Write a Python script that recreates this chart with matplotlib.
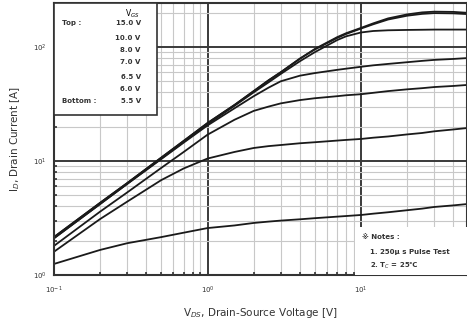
import numpy as np
import matplotlib
matplotlib.use('Agg')
import matplotlib.pyplot as plt
from matplotlib.ticker import LogLocator, NullFormatter

plt.rcParams['font.family'] = ['DejaVu Sans', 'Noto Sans CJK SC']

# datos
vgs_labels = ['15.0 V', '10.0 V', '8.0 V', '7.0 V', '6.5 V', '6.0 V', '5.5 V']
vds = [0.1, 0.2, 0.3, 0.5, 0.7, 1, 1.5, 2, 2.5, 3, 4, 5, 7, 8, 10, 12, 15, 20, 25, 30, 40, 50]
id_15v = [2.15, 4.3, 6.4, 10.7, 15, 21.5, 31, 41, 51, 60, 79, 96, 122, 132, 147, 161, 178, 193, 201, 204, 203, 199]
id_10v = [2.15, 4.3, 6.4, 10.7, 15, 21.5, 31, 41, 51, 60, 79, 95, 120, 130, 145, 158, 174, 188, 195, 198, 197, 194]
id_8v = [2.1, 4.2, 6.3, 10.5, 14.7, 21, 30.5, 40, 49, 58, 75, 90, 115, 124, 134, 138, 140, 141, 141.5, 142, 142, 142]
id_7v = [2.1, 4.2, 6.3, 10.4, 14.5, 20.5, 29, 37, 44, 50, 56, 59, 63, 64.5, 67, 69, 71, 73.5, 75.5, 77, 78.5, 80]
id_65v = [1.8, 3.6, 5.3, 8.7, 12, 17, 23, 27.5, 30, 32, 34.2, 35.5, 37, 37.7, 38.5, 39.6, 41, 42.5, 43.5, 44.5, 45.5, 46.5]
id_6v = [1.6, 3.1, 4.4, 6.8, 8.6, 10.5, 12, 13, 13.5, 13.8, 14.3, 14.6, 15.1, 15.3, 15.6, 16, 16.4, 17.1, 17.6, 18.2, 18.9, 19.5]
id_55v = [1.25, 1.66, 1.9, 2.15, 2.35, 2.58, 2.72, 2.86, 2.94, 3.0, 3.08, 3.15, 3.25, 3.29, 3.36, 3.45, 3.55, 3.7, 3.82, 3.95, 4.08, 4.2]
curvas = [id_15v, id_10v, id_8v, id_7v, id_65v, id_6v, id_55v]

fig = plt.figure(figsize=(4.67, 3.28), dpi=100)
ax = fig.add_axes([0.1156, 0.1616, 0.8844, 0.8293])
ax.set_xscale('log')
ax.set_yscale('log')
ax.set_xlim(0.1, 49)
ax.set_ylim(1, 243)

# rejilla
ax.xaxis.set_minor_locator(LogLocator(base=10, subs=np.arange(2, 10)))
ax.yaxis.set_minor_locator(LogLocator(base=10, subs=np.arange(2, 10)))
ax.xaxis.set_minor_formatter(NullFormatter())
ax.yaxis.set_minor_formatter(NullFormatter())
ax.grid(which='minor', color='#c8c8c8', linewidth=0.8)
ax.grid(which='major', color='#3a3a3a', linewidth=1.4)

for c in curvas:
    ax.plot(vds, c, color='#1a1a1a', linewidth=1.3)

for s in ax.spines.values():
    s.set_color('#333333')
    s.set_linewidth(1.5)

ax.tick_params(which='both', direction='in', labelsize=5, colors='#333333', length=2.5, width=1.2)
ax.tick_params(which='major', length=0)
ax.tick_params(axis='x', pad=7)
ax.tick_params(axis='y', pad=5)

ax.set_xlabel('V$_{DS}$, Drain-Source Voltage [V]', fontsize=7.5, color='#333333', labelpad=7)
ax.set_ylabel('I$_D$, Drain Current [A]', fontsize=7.5, color='#333333', labelpad=8)

# leyenda
box = plt.Rectangle((0, 0.59), 0.25, 0.41, transform=ax.transAxes, facecolor='white',
                    edgecolor='#333333', linewidth=1.2, zorder=5)
ax.add_patch(box)
ax.text(0.19, 0.962, 'V$_{GS}$', transform=ax.transAxes, fontsize=5.5, ha='center', va='center', zorder=6)
ys = [0.925, 0.87, 0.826, 0.782, 0.727, 0.683, 0.639]
for lab, y in zip(vgs_labels, ys):
    ax.text(0.21, y, lab, transform=ax.transAxes, fontsize=5, ha='right', va='center',
            fontweight='bold', color='#333333', zorder=6)
ax.text(0.02, 0.925, 'Top :', transform=ax.transAxes, fontsize=5, ha='left', va='center',
        fontweight='bold', color='#333333', zorder=6)
ax.text(0.02, 0.639, 'Bottom :', transform=ax.transAxes, fontsize=5, ha='left', va='center',
        fontweight='bold', color='#333333', zorder=6)

# notas
nbox = plt.Rectangle((0.73, 0.0), 0.27, 0.175, transform=ax.transAxes, facecolor='white',
                     edgecolor='none', zorder=5)
ax.add_patch(nbox)
ax.text(0.745, 0.14, '※ Notes :', transform=ax.transAxes, fontsize=5, ha='left', va='center',
        fontweight='bold', color='#333333', zorder=6)
ax.text(0.765, 0.085, '1. 250μ s Pulse Test', transform=ax.transAxes, fontsize=5, ha='left',
        va='center', fontweight='bold', color='#333333', zorder=6)
ax.text(0.765, 0.034, '2. T$_C$ = 25℃', transform=ax.transAxes, fontsize=5, ha='left',
        va='center', fontweight='bold', color='#333333', zorder=6)

fig.savefig('out.png', dpi=100)
